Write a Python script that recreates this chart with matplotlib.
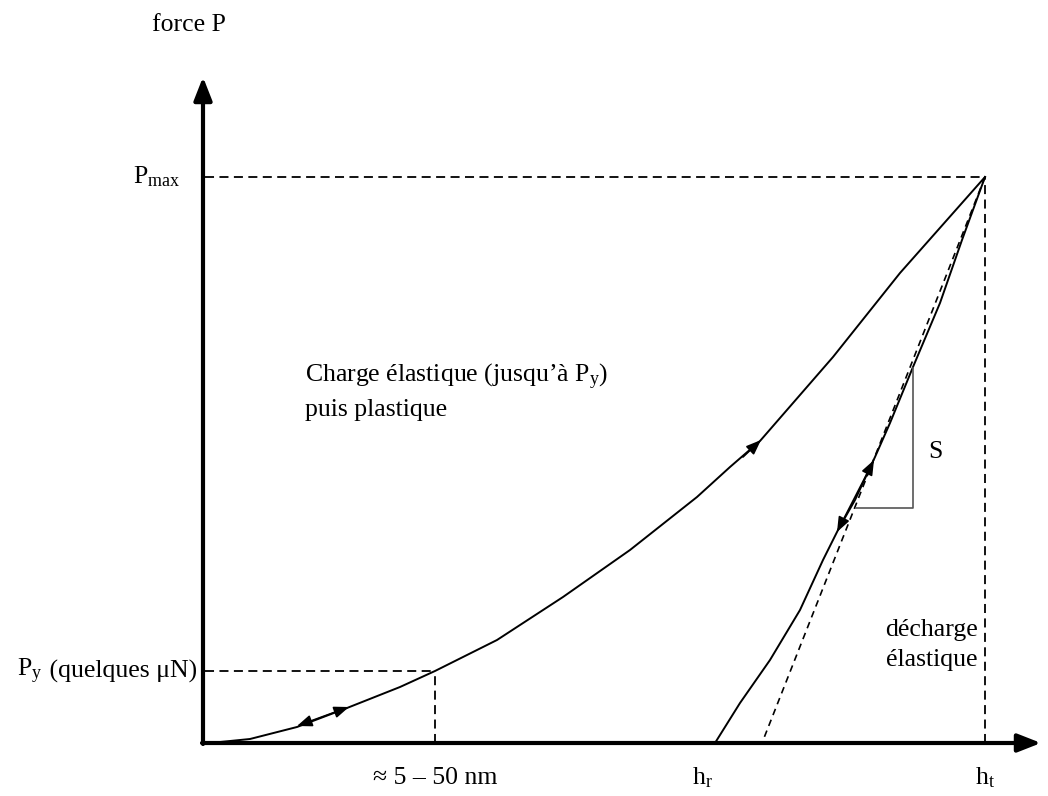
import matplotlib
matplotlib.use('Agg')
import matplotlib.pyplot as plt

plt.rcParams['font.family'] = ['Liberation Serif', 'DejaVu Serif']
plt.rcParams['mathtext.fontset'] = 'custom'
plt.rcParams['mathtext.rm'] = 'Liberation Serif'
plt.rcParams['mathtext.it'] = 'Liberation Serif:italic'

# schematic units: depth h (right), force P (up), origin at axis corner
load_h = [7, 47, 94, 144, 197, 232, 294, 360, 427, 494, 527, 557, 630, 697, 782]
load_P = [0, 4, 16, 35, 56, 72, 103, 146, 193, 246, 276, 302, 386, 470, 566]
unload_h = [782, 759, 737, 710, 687, 672, 652, 635, 620, 597, 567, 537, 512]
unload_P = [566, 503, 440, 376, 320, 286, 243, 213, 183, 133, 83, 40, 0]
tangent_h = [782, 559]
tangent_P = [566, 0]

P_max = 566
P_y = 72
h_y = 232
h_r = 512
h_t = 782

fig = plt.figure(figsize=(10.48, 7.96), dpi=100)
ax = fig.add_axes([0, 0, 1, 1])
ax.set_xlim(-203, 845)
ax.set_ylim(-53, 743)
ax.axis('off')

# axes with arrows
ax.annotate('', xy=(0, 666), xytext=(0, -1),
            arrowprops=dict(arrowstyle='-|>,head_length=1.4,head_width=0.55',
                            lw=3, color='black', shrinkA=0, shrinkB=0))
ax.annotate('', xy=(838, 0), xytext=(-1, 0),
            arrowprops=dict(arrowstyle='-|>,head_length=1.4,head_width=0.55',
                            lw=3, color='black', shrinkA=0, shrinkB=0))

# dashed guides
dash = dict(color='black', lw=1.3, ls=(0, (5, 3)))
ax.plot([2, h_t], [P_max, P_max], **dash)
ax.plot([h_t, h_t], [0, P_max], **dash)
ax.plot([2, h_y], [P_y, P_y], **dash)
ax.plot([h_y, h_y], [0, P_y], **dash)
ax.plot(tangent_h, tangent_P, color='black', lw=1.2, ls=(0, (4, 3)))

# curves
ax.plot(load_h, load_P, color='black', lw=1.4, solid_joinstyle='round')
ax.plot(unload_h, unload_P, color='black', lw=1.4, solid_joinstyle='round')

# stiffness triangle
ax.plot([653, 710, 710], [235, 235, 375], color='#555555', lw=1.2)

arr = dict(arrowstyle='-|>,head_length=0.9,head_width=0.35', lw=1.2, color='black',
           shrinkA=0, shrinkB=0)
arr2 = dict(arrowstyle='<|-|>,head_length=0.9,head_width=0.35', lw=1.2, color='black',
            shrinkA=0, shrinkB=0)
ax.annotate('', xy=(146, 36), xytext=(94, 17), arrowprops=arr2)
ax.annotate('', xy=(558, 303), xytext=(540, 286), arrowprops=arr)
ax.annotate('', xy=(671, 283), xytext=(634, 211), arrowprops=arr2)

fs = 18.5
ax.text(-14, 718, 'force P', fontsize=fs, ha='center', va='center')
ax.text(-23, P_max, r'P$_{\rm max}$', fontsize=fs, ha='right', va='center')
q = ax.text(-6, P_y, ' (quelques μN)', fontsize=fs, ha='right', va='center')
ax.annotate(r'P$_{\rm y}$', xy=(0, 0.5), xycoords=q, fontsize=fs,
            ha='right', va='center')
ax.text(h_y, -35, '≈ 5 – 50 nm', fontsize=fs, ha='center', va='center')
ax.text(h_r - 13, -35, r'h$_{\rm r}$', fontsize=fs, ha='center', va='center')
ax.text(h_t, -35, r'h$_{\rm t}$', fontsize=fs, ha='center', va='center')
ax.text(102, 366, r'Charge élastique (jusqu’à P$_{\rm y}$)', fontsize=fs,
        ha='left', va='center')
ax.text(102, 333, 'puis plastique', fontsize=fs, ha='left', va='center')
ax.text(732, 291, 'S', fontsize=fs, ha='center', va='center')
ax.text(729, 113, 'décharge', fontsize=fs, ha='center', va='center')
ax.text(729, 83, 'élastique', fontsize=fs, ha='center', va='center')

fig.savefig('out.png', dpi=100, facecolor='white')
